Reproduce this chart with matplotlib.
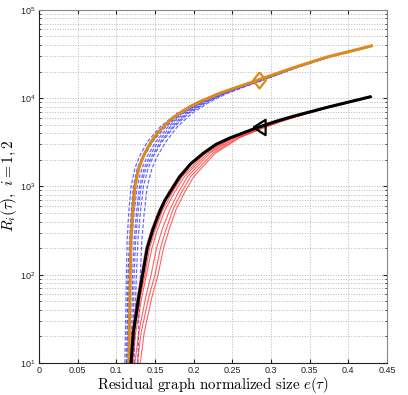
import matplotlib
matplotlib.use("Agg")
import matplotlib.pyplot as plt

plt.rcParams["mathtext.fontset"] = "cm"
plt.rcParams["font.family"] = ["Liberation Sans", "DejaVu Sans"]

# i = 1: thick orange curve and blue dashed runs
y_orange = [10, 30, 100, 250, 500, 1000, 1600, 2200, 2700, 3200, 4000, 4760, 5800, 6760, 8000, 9100,
            11400, 13650, 16030, 22130, 29170, 39080]
x_orange = [0.116, 0.117, 0.118, 0.119, 0.121, 0.124, 0.129, 0.135, 0.140, 0.145, 0.153, 0.161, 0.171, 0.182, 0.195, 0.208,
            0.234, 0.260, 0.283, 0.329, 0.372, 0.430]

y_blue = [10, 30, 100, 250, 500, 1000, 1600, 2200, 3200, 4760, 6760, 9100, 11400, 13650, 16030, 22130, 29170, 39080]
blue_runs = [
    [0.111, 0.112, 0.113, 0.114, 0.116, 0.119, 0.124, 0.130, 0.140, 0.157, 0.179, 0.206, 0.233, 0.259, 0.283, 0.329, 0.372, 0.430],
    [0.113, 0.114, 0.115, 0.117, 0.119, 0.122, 0.127, 0.134, 0.145, 0.162, 0.184, 0.210, 0.236, 0.262, 0.285, 0.330, 0.373, 0.430],
    [0.119, 0.120, 0.121, 0.123, 0.126, 0.130, 0.136, 0.143, 0.154, 0.170, 0.190, 0.214, 0.239, 0.264, 0.287, 0.331, 0.374, 0.431],
    [0.123, 0.124, 0.126, 0.128, 0.131, 0.135, 0.141, 0.148, 0.159, 0.175, 0.194, 0.218, 0.242, 0.266, 0.289, 0.332, 0.374, 0.431],
    [0.128, 0.129, 0.131, 0.133, 0.136, 0.140, 0.146, 0.153, 0.164, 0.179, 0.198, 0.221, 0.244, 0.268, 0.290, 0.333, 0.375, 0.431],
    [0.116, 0.117, 0.118, 0.120, 0.123, 0.127, 0.133, 0.140, 0.151, 0.167, 0.187, 0.212, 0.237, 0.263, 0.286, 0.331, 0.373, 0.430],
    [0.121, 0.122, 0.123, 0.125, 0.128, 0.132, 0.138, 0.146, 0.157, 0.173, 0.192, 0.216, 0.240, 0.265, 0.288, 0.332, 0.374, 0.431],
    [0.114, 0.115, 0.116, 0.118, 0.120, 0.123, 0.128, 0.136, 0.147, 0.164, 0.185, 0.211, 0.236, 0.262, 0.285, 0.330, 0.373, 0.430],
]

# i = 2: thick black curve and thin red runs
y_black = [10, 22, 56, 100, 200, 320, 420, 542, 700, 850, 1050, 1290, 1800, 2380, 3000, 3548,
           4620, 5500, 6240, 7850, 10350]
x_black = [0.119, 0.122, 0.129, 0.134, 0.140, 0.147, 0.152, 0.157, 0.163, 0.169, 0.1755, 0.182, 0.196, 0.2125, 0.229, 0.247,
           0.2816, 0.3075, 0.329, 0.372, 0.428]

y_red = [10, 22, 56, 100, 200, 320, 542, 850, 1290, 2380, 3548, 4620, 5500, 6240, 7850, 10350]
red_runs = [
    [0.117, 0.120, 0.127, 0.132, 0.138, 0.145, 0.155, 0.167, 0.180, 0.211, 0.246, 0.281, 0.307, 0.329, 0.372, 0.429],
    [0.121, 0.125, 0.133, 0.139, 0.146, 0.153, 0.163, 0.175, 0.188, 0.218, 0.251, 0.285, 0.310, 0.331, 0.373, 0.430],
    [0.124, 0.129, 0.138, 0.145, 0.152, 0.159, 0.169, 0.180, 0.192, 0.221, 0.254, 0.287, 0.312, 0.333, 0.374, 0.430],
    [0.127, 0.132, 0.142, 0.150, 0.157, 0.164, 0.173, 0.184, 0.196, 0.225, 0.257, 0.289, 0.314, 0.334, 0.375, 0.430],
    [0.131, 0.136, 0.146, 0.154, 0.161, 0.168, 0.177, 0.188, 0.200, 0.228, 0.259, 0.291, 0.315, 0.335, 0.375, 0.430],
    [0.119, 0.123, 0.131, 0.137, 0.143, 0.150, 0.160, 0.172, 0.185, 0.215, 0.249, 0.283, 0.309, 0.330, 0.373, 0.430],
]

# marker positions
diamond_pt = (0.285, 16250)
triangle_pt = (0.285, 4700)

xticks = [0, 0.05, 0.1, 0.15, 0.2, 0.25, 0.3, 0.35, 0.4, 0.45]
xtick_labels = ["0", "0.05", "0.1", "0.15", "0.2", "0.25", "0.3", "0.35", "0.4", "0.45"]

ORANGE = "#DA8A1F"
diamond = [(0, 1), (0.8, 0), (0, -1), (-0.8, 0), (0, 1)]
tri_left = [(-0.8, 0), (0.8, -1), (0.8, 1), (-0.8, 0)]

fig = plt.figure(figsize=(4.08, 3.95), dpi=100)
ax = fig.add_axes([0.0956, 0.081, 0.853, 0.894])

for xs in blue_runs:
    ax.plot(xs, y_blue, "--", color="#2a2aff", lw=0.9, alpha=0.7, dashes=(3, 1.5))
for xs in red_runs:
    ax.plot(xs, y_red, "-", color="#ff2020", lw=0.8, alpha=0.7)

ax.plot(x_orange, y_orange, color=ORANGE, lw=2.2)
ax.plot(x_black, y_black, color="black", lw=2.2)
ax.plot(*diamond_pt, marker=diamond, ms=11.5, mfc="none", mec=ORANGE, mew=1.6)
ax.plot(*triangle_pt, marker=tri_left, ms=11, mfc="none", mec="black", mew=1.6)

ax.set_yscale("log")
ax.set_xlim(0, 0.45)
ax.set_ylim(10, 1e5)
ax.set_xticks(xticks)
ax.set_xticklabels(xtick_labels)

ax.grid(True, which="major", axis="both", ls=":", color="#b8b8b8", lw=0.7)
ax.grid(True, which="minor", axis="y", ls=":", color="#b8b8b8", lw=0.7)
ax.tick_params(which="both", direction="in", top=True, right=True, labelsize=6.5, colors="#222222")
ax.tick_params(which="major", length=3, pad=2.5)
ax.tick_params(which="minor", length=1.5)
for side in ["left", "bottom"]:
    ax.spines[side].set_color("#222222")
for side in ["top", "right"]:
    ax.spines[side].set_color("#888888")

ax.set_xlabel(r"$\mathrm{Residual\ graph\ normalized\ size}\ e(\tau)$", fontsize=10.8)
ax.xaxis.set_label_coords(0.5, -0.034)
ax.set_ylabel(r"$R_i(\tau),\ i=1,2$", fontsize=11)
ax.yaxis.set_label_coords(-0.058, 0.5)

fig.savefig("out.png", dpi=100)
